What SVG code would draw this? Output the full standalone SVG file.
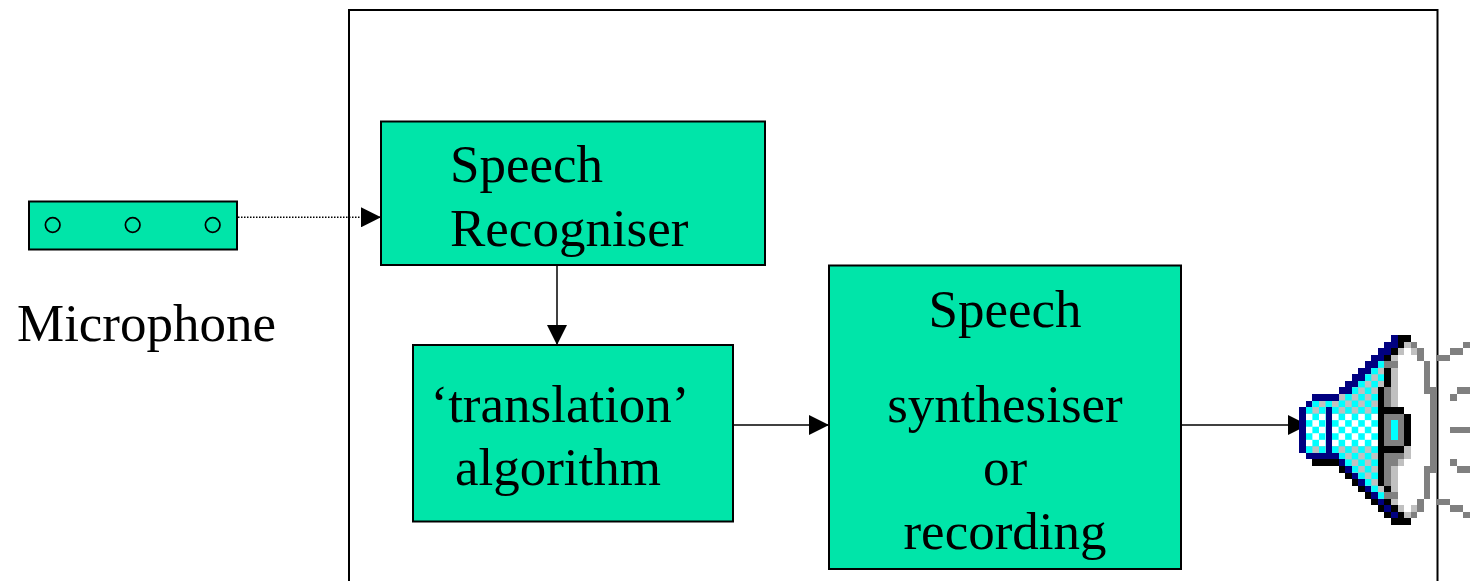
<svg xmlns="http://www.w3.org/2000/svg" width="1470" height="581" viewBox="0 0 1470 581">
<style>
.box{fill:#00E5A9;stroke:#000;stroke-width:2}
.lbl{font-family:"Liberation Serif","Times New Roman",serif;font-size:53px;fill:#000}
.mid{text-anchor:middle}
.conn{stroke:#000;stroke-width:1.5;fill:none}
.dot{stroke:#000;stroke-width:1.5;fill:none;stroke-dasharray:1.5 1.5}
</style>
<defs>
<marker id="ah" markerUnits="userSpaceOnUse" markerWidth="20" markerHeight="20" refX="20" refY="10" orient="auto" viewBox="0 0 20 20">
<path d="M0,0 L20,10 L0,20 z" fill="#000"/>
</marker>
<pattern id="chk" width="2" height="2" patternUnits="userSpaceOnUse">
<rect width="2" height="2" fill="#c0c0c0"/><rect width="1" height="1" fill="#00ffff"/><rect x="1" y="1" width="1" height="1" fill="#00ffff"/>
</pattern>
<pattern id="chkw" width="2" height="2" patternUnits="userSpaceOnUse">
<rect width="2" height="2" fill="#ffffff"/><rect width="1" height="1" fill="#00ffff"/><rect x="1" y="1" width="1" height="1" fill="#00ffff"/>
</pattern>
</defs>
<rect width="1470" height="581" fill="#fff"/>
<g id="system">
<rect x="349" y="10" width="1088.5" height="620" fill="none" stroke="#000" stroke-width="2"/>
</g>
<g id="connectors">
<line class="dot" x1="238" y1="217.3" x2="381" y2="217.3" marker-end="url(#ah)"/>
<line class="conn" x1="557" y1="265" x2="557" y2="345" marker-end="url(#ah)"/>
<line class="conn" x1="733" y1="425" x2="829" y2="425" marker-end="url(#ah)"/>
<line class="conn" x1="1181" y1="425" x2="1308" y2="425" marker-end="url(#ah)"/>
</g>
<g id="microphone">
<rect class="box" x="29" y="201.5" width="208" height="48"/>
<circle cx="52.7" cy="225" r="7.3" fill="none" stroke="#000" stroke-width="1.7"/>
<circle cx="132.7" cy="225" r="7.3" fill="none" stroke="#000" stroke-width="1.7"/>
<circle cx="212.7" cy="225" r="7.3" fill="none" stroke="#000" stroke-width="1.7"/>
<text class="lbl" x="17" y="341">Microphone</text>
</g>
<g id="recogniser">
<rect class="box" x="381" y="121.5" width="384" height="143.5"/>
<text class="lbl" x="450" y="182">Speech</text>
<text class="lbl" x="450" y="246">Recogniser</text>
</g>
<g id="translation">
<rect class="box" x="413" y="345" width="320" height="176.5"/>
<text class="lbl mid" x="560" y="422">‘translation’</text>
<text class="lbl mid" x="558" y="485">algorithm</text>
</g>
<g id="synthesiser">
<rect class="box" x="829" y="265.5" width="352" height="303.5"/>
<text class="lbl mid" x="1005" y="327">Speech</text>
<text class="lbl mid" x="1005" y="422">synthesiser</text>
<text class="lbl mid" x="1005" y="485">or</text>
<text class="lbl mid" x="1005" y="549">recording</text>
</g>
<g id="speaker" transform="translate(1299.3,335) scale(6.55)" shape-rendering="crispEdges">
<path fill="url(#chk)" d="M12,4h1v1h-1z M11,5h2v1h-2z M10,6h3v1h-3z M9,7h4v1h-4z M8,8h4v1h-4z M6,9h6v1h-6z M2,10h10v1h-10z M1,11h3v1h-3z M5,11h7v1h-7z M1,17h3v1h-3z M5,17h7v1h-7z M6,18h6v1h-6z M7,19h5v1h-5z M8,20h4v1h-4z M9,21h3v1h-3z M10,22h2v1h-2z M11,23h2v1h-2z M12,24h1v1h-1z"/>
<path fill="url(#chkw)" d="M1,12h3v5h-3z M5,12h7v5h-7z"/>
<path fill="#000080" d="M14,0h1v1h-1z M13,1h2v1h-2z M12,2h2v1h-2z M11,3h2v1h-2z M10,4h2v1h-2z M9,5h2v1h-2z M8,6h2v1h-2z M7,7h2v1h-2z M6,8h2v1h-2z M2,9h4v1h-4z M1,10h1v1h-1z M0,11h1v7h-1z M4,11h1v7h-1z M1,18h5v1h-5z M6,19h1v1h-1z M7,20h1v1h-1z M8,21h1v1h-1z M9,22h1v1h-1z M10,23h1v1h-1z M11,24h1v1h-1z M12,25h1v1h-1z M13,26h1v1h-1z M14,27h1v1h-1z"/>
<path fill="#000000" d="M15,0h2v1h-2z M15,1h1v1h-1z M14,2h1v1h-1z M13,3h1v1h-1z M13,5h1v3h-1z M12,8h1v15h-1z M13,11h3v1h-3z M16,12h1v5h-1z M13,17h3v1h-3z M2,19h4v1h-4z M6,20h1v1h-1z M7,21h1v1h-1z M8,22h1v1h-1z M9,23h1v1h-1z M13,23h1v1h-1z M10,24h1v1h-1z M11,25h1v1h-1z M13,25h1v1h-1z M12,26h1v1h-1z M14,26h1v1h-1z M13,27h1v1h-1z M15,27h1v1h-1z M14,28h3v1h-3z"/>
<path fill="#808080" d="M17,1h1v1h-1z M18,2h1v2h-1z M13,4h2v1h-2z M19,4h1v5h-1z M13,8h1v3h-1z M20,8h1v13h-1z M13,12h3v5h-3z M13,18h3v1h-3z M13,19h2v1h-2z M13,20h1v3h-1z M19,20h1v5h-1z M13,24h2v1h-2z M18,25h1v2h-1z M17,27h1v1h-1z M25,1h1v1h-1z M23,2h2v1h-2z M21,3h2v1h-2z M24,8h2v1h-2z M23,9h1v1h-1z M23,14h3v1h-3z M23,19h1v1h-1z M24,20h2v1h-2z M21,25h2v1h-2z M23,26h2v1h-2z M25,27h1v1h-1z"/>
<path fill="#c0c0c0" d="M16,1h1v1h-1z M15,2h1v1h-1z M17,2h1v1h-1z M14,3h1v1h-1z M14,5h1v6h-1z M16,17h1v2h-1z M15,19h1v1h-1z M14,20h1v4h-1z M14,25h1v1h-1z M15,26h1v1h-1z M17,26h1v1h-1z M16,27h1v1h-1z"/>
<path fill="#00ffff" d="M14,13h1v3h-1z"/>
</g>
</svg>
